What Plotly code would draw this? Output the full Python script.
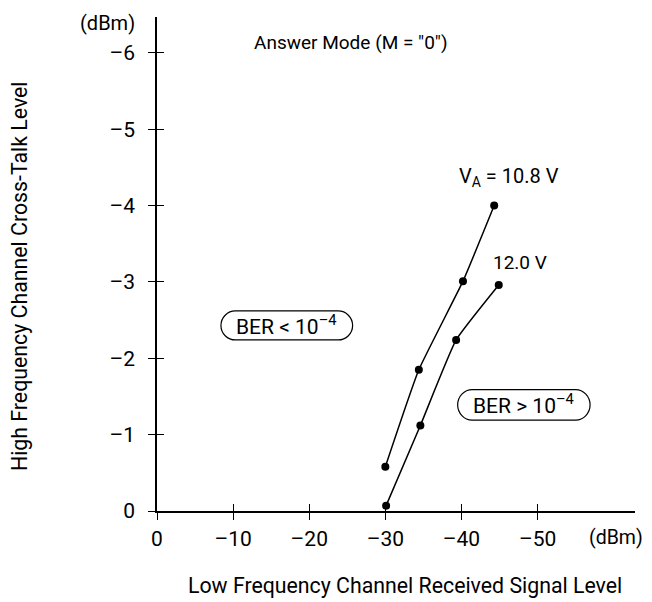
import plotly.graph_objects as go

# values (dBm)
low_108 = [-30.0, -34.4, -40.2, -44.3]
high_108 = [-0.58, -1.85, -3.01, -4.0]
low_120 = [-30.1, -34.6, -39.3, -44.9]
high_120 = [-0.07, -1.12, -2.24, -2.96]

x_ticks = [0, -10, -20, -30, -40, -50]
x_ticktext = ["0", "–10", "–20", "–30", "–40", "–50"]
y_ticks = [0, -1, -2, -3, -4, -5, -6]
y_ticktext = ["0", "–1", "–2", "–3", "–4", "–5", "–6"]

FONT = "Roboto, Liberation Sans, Arial"
FS = 21
# page body has an 8px margin, so the figure is drawn 8px smaller and shifted
OFF = 8
W, H = 652 - OFF, 602 - OFF
# plot area in page pixels: x 157..635, y 17..511
L, T = 157 - OFF, 17 - OFF
R, B = W - (635 - OFF), H - (511 - OFF)
PW, PH = 635 - 157, 511 - 17


def px(xp):
    return (xp - 157) / PW


def py(yp):
    return (511 - yp) / PH


def pill(x0, x1, y0, y1, rx, ry):
    # rounded box path in data coords (x axis runs negative to the right)
    sx = 1 if x1 > x0 else -1
    sy = 1 if y1 > y0 else -1
    rx, ry = rx * sx, ry * sy
    k = 0.45
    return (f"M {x0+rx},{y0} L {x1-rx},{y0} "
            f"C {x1-rx*k},{y0} {x1},{y0+ry*k} {x1},{y0+ry} L {x1},{y1-ry} "
            f"C {x1},{y1-ry*k} {x1-rx*k},{y1} {x1-rx},{y1} L {x0+rx},{y1} "
            f"C {x0+rx*k},{y1} {x0},{y1-ry*k} {x0},{y1-ry} L {x0},{y0+ry} "
            f"C {x0},{y0+ry*k} {x0+rx*k},{y0} {x0+rx},{y0} Z")


fig = go.Figure()
for xs, ys in [(low_108, high_108), (low_120, high_120)]:
    fig.add_trace(go.Scatter(x=xs, y=ys, mode="lines+markers",
                             line=dict(color="black", width=1.5, shape="spline", smoothing=0.4),
                             marker=dict(color="black", size=8),
                             showlegend=False, cliponaxis=False))

# second pair of axes only for inward half of the crossing ticks
fig.add_trace(go.Scatter(x=[None], y=[None], xaxis="x2", yaxis="y2", showlegend=False))

axis_common = dict(showgrid=False, zeroline=False, showline=True, linecolor="black",
                   linewidth=1.5, ticks="outside", ticklen=7, tickwidth=1.3, tickcolor="black",
                   automargin=False, tickfont=dict(family=FONT, size=FS, color="black"))
inner = dict(showticklabels=False, showgrid=False, zeroline=False, ticks="inside",
             ticklen=7, tickwidth=1.3, tickcolor="black", automargin=False)

fig.update_layout(
    width=W, height=H,
    margin=dict(l=L, r=R, t=T, b=B),
    plot_bgcolor="white", paper_bgcolor="white",
    font=dict(family=FONT, size=FS, color="black"),
    xaxis=dict(range=[0, -62.8], tickvals=x_ticks, ticktext=x_ticktext,
               ticklabelstandoff=1, **axis_common),
    yaxis=dict(range=[0, -6.47], tickvals=y_ticks, ticktext=y_ticktext,
               ticklabelstandoff=9, **axis_common),
    xaxis2=dict(range=[0, -62.8], overlaying="x", tickvals=x_ticks, anchor="y2", **inner),
    yaxis2=dict(range=[0, -6.47], overlaying="y", tickvals=y_ticks, anchor="x2", **inner),
)

fig.add_shape(type="path", path=pill(-8.4, -25.7, -2.62, -2.24, 1.9, 0.19),
              line=dict(color="black", width=1.2))
fig.add_shape(type="path", path=pill(-39.5, -56.9, -1.59, -1.19, 1.9, 0.2),
              line=dict(color="black", width=1.2))

ann = [
    dict(x=-17.0, y=-2.43, text="BER < 10<sup>–4</sup>", font=dict(size=21)),
    dict(x=-48.2, y=-1.40, text="BER > 10<sup>–4</sup>", font=dict(size=21)),
    dict(x=-46.2, y=-4.37, text="V<sub>A</sub> = 10.8 V", font=dict(size=20)),
    dict(x=-47.7, y=-3.26, text="12.0 V", font=dict(size=19)),
    dict(x=-25.5, y=-6.13, text='Answer Mode (M = "0")', font=dict(size=19)),
]
for a in ann:
    fig.add_annotation(xref="x", yref="y", showarrow=False, xanchor="center",
                       yanchor="middle", **a)

for x, y, text, angle, size in [(107, 23, "(dBm)", 0, 20), (616, 537, "(dBm)", 0, 19.5),
                                (405, 585, "Low Frequency Channel Received Signal Level", 0, 21.3),
                                (19, 276, "High Frequency Channel Cross-Talk Level", -90, 21.3)]:
    fig.add_annotation(xref="paper", yref="paper", x=px(x), y=py(y), text=text,
                       textangle=angle, xanchor="center", yanchor="middle",
                       font=dict(size=size), showarrow=False)

fig.write_html("out.html")
